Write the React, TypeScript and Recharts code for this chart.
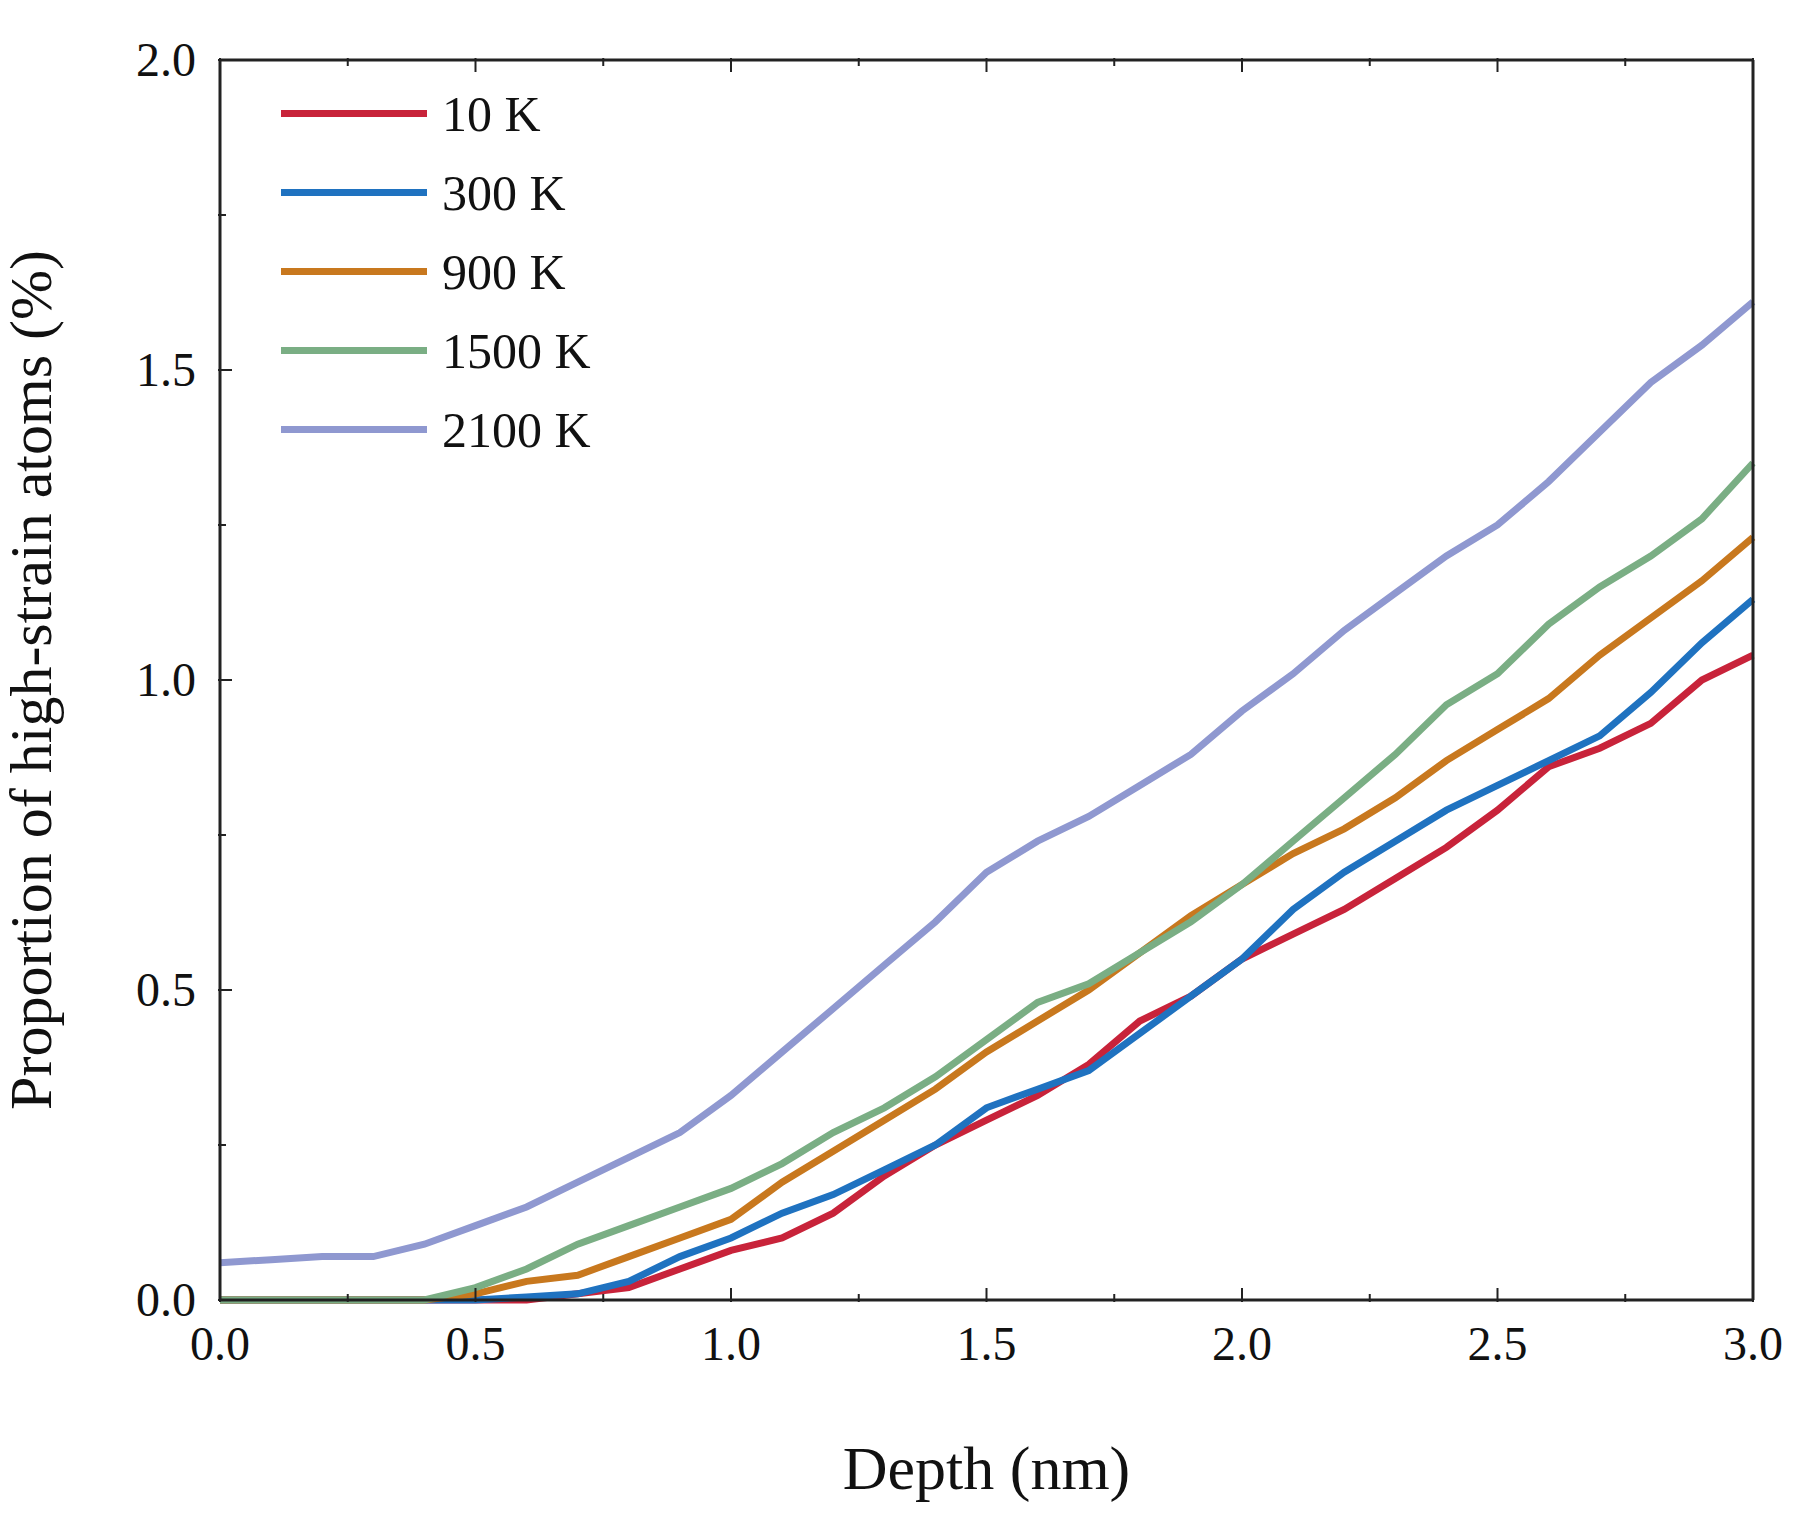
import React from 'react';
import { LineChart, Line, XAxis, YAxis } from 'recharts';

const depth = [0, 0.1, 0.2, 0.3, 0.4, 0.5, 0.6, 0.7, 0.8, 0.9, 1.0, 1.1, 1.2, 1.3, 1.4, 1.5, 1.6, 1.7, 1.8, 1.9, 2.0, 2.1, 2.2, 2.3, 2.4, 2.5, 2.6, 2.7, 2.8, 2.9, 3.0];
const k10 = [0, 0, 0, 0, 0, 0, 0, 0.01, 0.02, 0.05, 0.08, 0.1, 0.14, 0.2, 0.25, 0.29, 0.33, 0.38, 0.45, 0.49, 0.55, 0.59, 0.63, 0.68, 0.73, 0.79, 0.86, 0.89, 0.93, 1.0, 1.04];
const k300 = [0, 0, 0, 0, 0, 0, 0.005, 0.01, 0.03, 0.07, 0.1, 0.14, 0.17, 0.21, 0.25, 0.31, 0.34, 0.37, 0.43, 0.49, 0.55, 0.63, 0.69, 0.74, 0.79, 0.83, 0.87, 0.91, 0.98, 1.06, 1.13];
const k900 = [0, 0, 0, 0, 0, 0.01, 0.03, 0.04, 0.07, 0.1, 0.13, 0.19, 0.24, 0.29, 0.34, 0.4, 0.45, 0.5, 0.56, 0.62, 0.67, 0.72, 0.76, 0.81, 0.87, 0.92, 0.97, 1.04, 1.1, 1.16, 1.23];
const k1500 = [0, 0, 0, 0, 0, 0.02, 0.05, 0.09, 0.12, 0.15, 0.18, 0.22, 0.27, 0.31, 0.36, 0.42, 0.48, 0.51, 0.56, 0.61, 0.67, 0.74, 0.81, 0.88, 0.96, 1.01, 1.09, 1.15, 1.2, 1.26, 1.35];
const k2100 = [0.06, 0.065, 0.07, 0.07, 0.09, 0.12, 0.15, 0.19, 0.23, 0.27, 0.33, 0.4, 0.47, 0.54, 0.61, 0.69, 0.74, 0.78, 0.83, 0.88, 0.95, 1.01, 1.08, 1.14, 1.2, 1.25, 1.32, 1.4, 1.48, 1.54, 1.61];

const xTicks = [0, 0.25, 0.5, 0.75, 1, 1.25, 1.5, 1.75, 2, 2.25, 2.5, 2.75, 3];
const yTicks = [0, 0.25, 0.5, 0.75, 1, 1.25, 1.5, 1.75, 2];

const series = [
  { key: 'k10', name: '10 K', color: '#c8233a' },
  { key: 'k300', name: '300 K', color: '#1f72c0' },
  { key: 'k900', name: '900 K', color: '#c8781e' },
  { key: 'k1500', name: '1500 K', color: '#7aae84' },
  { key: 'k2100', name: '2100 K', color: '#8f98d0' },
];

const data = depth.map((d, i) => ({ depth: d, k10: k10[i], k300: k300[i], k900: k900[i], k1500: k1500[i], k2100: k2100[i] }));

const FONT = '"Liberation Serif", "Times New Roman", serif';
const AX = '#222';
const isMajor = (v: number) => Math.abs(v * 2 - Math.round(v * 2)) < 1e-6;

const BottomTick = (p: any) => {
  const v = p.payload.value;
  const len = isMajor(v) ? 14 : 8;
  return (
    <g>
      <line x1={p.x} x2={p.x} y1={p.y} y2={p.y - len} stroke={AX} strokeWidth={2} />
      {isMajor(v) && (
        <text x={p.x} y={p.y + 58} textAnchor="middle" fontSize={48} fontFamily={FONT} fill="#111">{v.toFixed(1)}</text>
      )}
    </g>
  );
};
const TopTick = (p: any) => {
  const len = isMajor(p.payload.value) ? 14 : 8;
  return <line x1={p.x} x2={p.x} y1={p.y} y2={p.y + len} stroke={AX} strokeWidth={2} />;
};
const LeftTick = (p: any) => {
  const v = p.payload.value;
  const len = isMajor(v) ? 14 : 8;
  return (
    <g>
      <line x1={p.x} x2={p.x + len} y1={p.y} y2={p.y} stroke={AX} strokeWidth={2} />
      {isMajor(v) && (
        <text x={p.x - 22} y={p.y + 16} textAnchor="end" fontSize={48} fontFamily={FONT} fill="#111">{v.toFixed(1)}</text>
      )}
    </g>
  );
};
const RightTick = (p: any) => {
  const len = isMajor(p.payload.value) ? 14 : 8;
  return <line x1={p.x} x2={p.x - len} y1={p.y} y2={p.y} stroke={AX} strokeWidth={2} />;
};

export default function App() {
  return (
    <div style={{ margin: -8, background: '#fff', width: 1811, height: 1517, position: 'relative' }}>
      <LineChart width={1811} height={1517} data={data} margin={{ top: 59, right: 57, left: 0, bottom: 0 }}>
        <XAxis xAxisId="b" dataKey="depth" type="number" domain={[0, 3]} ticks={xTicks} height={217}
          stroke={AX} strokeWidth={3} tickSize={0} tickLine={false} tick={<BottomTick />} interval={0}
          label={{ value: 'Depth (nm)', position: 'insideBottom', offset: 28, fontSize: 62, fontFamily: FONT, fill: '#111' }} />
        <XAxis xAxisId="t" orientation="top" dataKey="depth" type="number" domain={[0, 3]} ticks={xTicks} height={1}
          stroke={AX} strokeWidth={3} tickSize={0} tickLine={false} tick={<TopTick />} interval={0} />
        <YAxis yAxisId="l" type="number" domain={[0, 2]} ticks={yTicks} width={220}
          stroke={AX} strokeWidth={3} tickSize={0} tickLine={false} tick={<LeftTick />} interval={0}
          label={{ value: 'Proportion of high-strain atoms (%)', angle: -90, position: 'insideLeft', offset: 30, fontSize: 60, fontFamily: FONT, fill: '#111', style: { textAnchor: 'middle' } }} />
        <YAxis yAxisId="r" orientation="right" type="number" domain={[0, 2]} ticks={yTicks} width={1}
          stroke={AX} strokeWidth={3} tickSize={0} tickLine={false} tick={<RightTick />} interval={0} />
        {series.map((s) => (
          <Line key={s.key} xAxisId="b" yAxisId="l" dataKey={s.key} name={s.name} stroke={s.color}
            strokeWidth={7} dot={false} type="linear" isAnimationActive={false} />
        ))}
      </LineChart>
      <div style={{ position: 'absolute', left: 281, top: 74, fontFamily: FONT, fontSize: 50, color: '#111' }}>
        {series.map((s) => (
          <div key={s.key} style={{ display: 'flex', alignItems: 'center', height: 79 }}>
            <div style={{ width: 146, height: 7, background: s.color, marginRight: 15 }} />
            <span>{s.name}</span>
          </div>
        ))}
      </div>
    </div>
  );
}
